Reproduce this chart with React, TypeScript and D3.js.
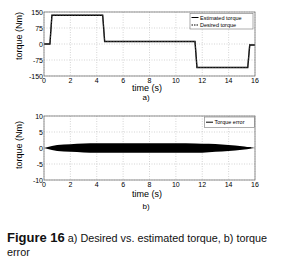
import React from 'react'
import * as d3 from 'd3'

// top chart: torque step profile
const stepTimes = [0, 0.45, 0.6, 4.45, 4.6, 11.45, 11.6, 15.45, 15.6, 16]
const estimatedTorque = [0, 0, 135, 135, 12, 12, -110, -110, -5, -5]
const desiredTorque = [0, 0, 135, 135, 12, 12, -110, -110, -5, -5]

// bottom chart: torque error envelope
const errTimes = [0, 0.3, 0.6, 1, 2, 3, 4, 6, 8, 10, 11.5, 12.5, 13.5, 14.5, 15.2, 15.6, 16]
const errUpper = [0, 0.3, 0.6, 0.9, 1.2, 1.4, 1.5, 1.5, 1.5, 1.5, 1.4, 1.3, 1.1, 0.8, 0.5, 0.2, 0]
const errLower = [0, -0.3, -0.6, -0.9, -1.2, -1.4, -1.5, -1.5, -1.5, -1.5, -1.5, -1.3, -1.1, -0.8, -0.5, -0.2, 0]

const xTicks = [0, 2, 4, 6, 8, 10, 12, 14, 16]
const yTicksTop = [-150, -75, 0, 75, 150]
const yTicksBottom = [-10, -5, 0, 5, 10]

const font = 'Liberation Sans, Arial, sans-serif'

type Panel = {
    top: number
    yDomain: [number, number]
    yTicks: number[]
    children: (x: d3.ScaleLinear<number, number>, y: d3.ScaleLinear<number, number>) => React.ReactNode
    labelY: number
    timeY: number
    tag: string
    tagY: number
}

const left = 44
const right = 255
const plotH = 64

function Axes(p: Panel) {
    const x = d3.scaleLinear().domain([0, 16]).range([left, right])
    const y = d3.scaleLinear().domain(p.yDomain).range([p.top + plotH, p.top])
    const bottom = p.top + plotH
    return (
        <g>
            {xTicks.map(t => (
                <line key={'gx' + t} x1={x(t)} x2={x(t)} y1={p.top} y2={bottom}
                    stroke="#b8b8b8" strokeWidth={0.6} strokeDasharray="1,1.5" />
            ))}
            {p.yTicks.map(t => (
                <line key={'gy' + t} x1={left} x2={right} y1={y(t)} y2={y(t)}
                    stroke="#b8b8b8" strokeWidth={0.6} strokeDasharray="1,1.5" />
            ))}
            {p.children(x, y)}
            <rect x={left} y={p.top} width={right - left} height={plotH} fill="none" stroke="#777" strokeWidth={0.8} />
            {xTicks.map(t => (
                <text key={'tx' + t} x={x(t)} y={bottom + 7} fontSize={7} textAnchor="middle" fontFamily={font}>{t}</text>
            ))}
            {p.yTicks.map(t => (
                <text key={'ty' + t} x={left - 1} y={y(t) + 2.5} fontSize={7} textAnchor="end" fontFamily={font}>{t}</text>
            ))}
            <text transform={`translate(22,${p.labelY}) rotate(-90)`} fontSize={9} textAnchor="middle" fontFamily={font}>torque (Nm)</text>
            <text x={147} y={p.timeY} fontSize={9} textAnchor="middle" fontFamily={font}>time (s)</text>
            <text x={146} y={p.tagY} fontSize={8} textAnchor="middle" fontFamily={font}>{p.tag}</text>
        </g>
    )
}

export default function App() {
    const stepData = stepTimes.map((t, i) => ({ t, est: estimatedTorque[i], des: desiredTorque[i] }))
    const errData = errTimes.map((t, i) => ({ t, hi: errUpper[i], lo: errLower[i] }))

    return (
        <svg width={288} height={268} style={{ position: 'absolute', left: 0, top: 0, background: '#fff' }}>
            <Axes top={12} yDomain={[-150, 150]} yTicks={yTicksTop} labelY={36} timeY={91} tag="a)" tagY={100}>
                {(x, y) => {
                    const line = (key: 'est' | 'des') => d3.line<typeof stepData[0]>().x(d => x(d.t)).y(d => y(d[key]))(stepData) ?? ''
                    return (
                        <g>
                            <path d={line('est')} fill="none" stroke="#000" strokeWidth={1.4} />
                            <path d={line('des')} fill="none" stroke="#444" strokeWidth={0.8} strokeDasharray="2,1" />
                            <rect x={190} y={13.5} width={63} height={15.5} fill="#fff" stroke="#777" strokeWidth={0.6} />
                            <line x1={191.5} x2={198.5} y1={17.5} y2={17.5} stroke="#000" strokeWidth={1} />
                            <text x={200} y={19.5} fontSize={5.5} fontFamily={font}>Estimated torque</text>
                            <line x1={191.5} x2={198.5} y1={25} y2={25} stroke="#000" strokeWidth={1} strokeDasharray="1.5,1" />
                            <text x={200} y={27} fontSize={5.5} fontFamily={font}>Desired torque</text>
                        </g>
                    )
                }}
            </Axes>
            <Axes top={116} yDomain={[-10, 10]} yTicks={yTicksBottom} labelY={145} timeY={197} tag="b)" tagY={209}>
                {(x, y) => {
                    const area = d3.area<typeof errData[0]>().x(d => x(d.t)).y0(d => y(d.lo)).y1(d => y(d.hi)).curve(d3.curveMonotoneX)
                    return (
                        <g>
                            <path d={area(errData) ?? ''} fill="#000" />
                            <line x1={x(15.2)} x2={x(15.7)} y1={y(0.1)} y2={y(0.1)} stroke="#000" strokeWidth={1} />
                            <rect x={204.5} y={117} width={50} height={10.5} fill="#fff" stroke="#777" strokeWidth={0.6} />
                            <line x1={206} x2={213} y1={122.2} y2={122.2} stroke="#000" strokeWidth={1} />
                            <text x={214.5} y={124.2} fontSize={5.5} fontFamily={font}>Torque error</text>
                        </g>
                    )
                }}
            </Axes>
            <text x={7} y={242} fontFamily={font} fill="#111">
                <tspan fontSize={13} fontWeight="bold">Figure 16</tspan>
                <tspan fontSize={10.8}> a) Desired vs. estimated torque, b) torque</tspan>
            </text>
            <text x={7} y={256} fontSize={10.8} fontFamily={font} fill="#111">error</text>
        </svg>
    )
}
